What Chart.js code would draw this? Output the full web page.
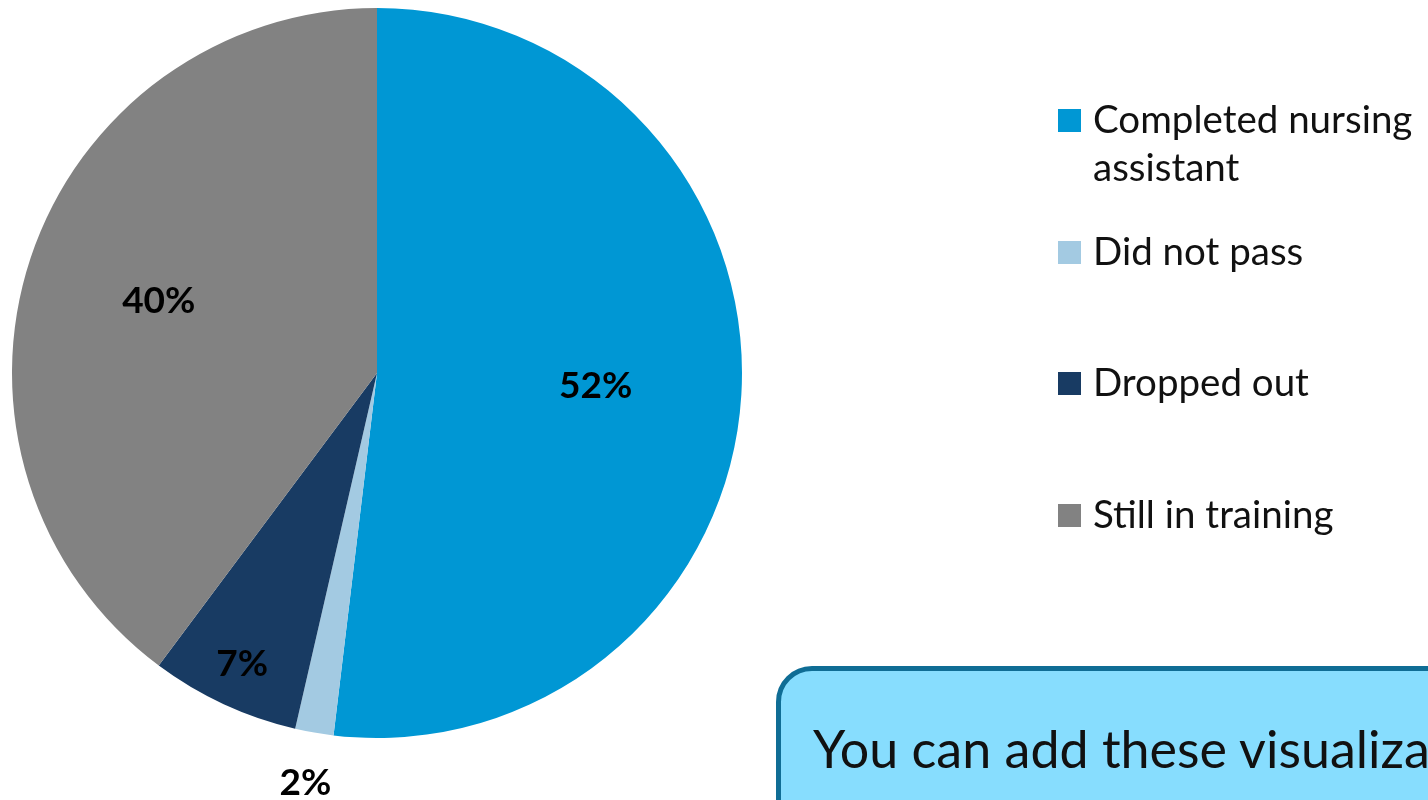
<!DOCTYPE html>
<html>
<head>
<meta charset="utf-8">
<script src="https://cdn.jsdelivr.net/npm/chart.js@4"></script>
<style>
  html, body { margin: 0; padding: 0; background: #fff; overflow: hidden; }
  #wrap { position: relative; width: 1428px; height: 800px; }
  #c { position: absolute; left: 0; top: 0; }
  .leg { position: absolute; left: 1058px; font-family: Lato, "Open Sans", sans-serif; font-size: 38.5px; color: #111; line-height: 48px; }
  .leg .sw { position: absolute; left: 0; top: 13px; width: 23px; height: 23px; }
  .leg .tx { position: absolute; left: 35px; top: -2px; width: 380px; white-space: normal; }
  #box { position: absolute; left: 776px; top: 666px; width: 720px; height: 220px; box-sizing: border-box;
         background: #87DDFE; border: 5px solid #0F6D95; border-radius: 36px;
         font-family: Lato, "Open Sans", sans-serif; font-size: 52px; color: #111; line-height: 76px; }
  #box .t { position: absolute; left: 32px; top: 39px; white-space: nowrap; }
</style>
</head>
<body>
<div id="wrap">
  <canvas id="c" width="1428" height="800"></canvas>
  <div id="box"><div class="t">You can add these visualizations<br>in a bulletin or report</div></div>
</div>
<script>
const categories = ["Completed nursing assistant", "Did not pass", "Dropped out", "Still in training"];
const values = [51.9, 1.7, 6.6, 39.8];
const percentLabels = ["52%", "2%", "7%", "40%"];
const colors = ["#0097D4", "#A3CAE2", "#183B63", "#828282"];
const labelRadii = [0.6, 1.14, 0.88, 0.63];
const legendTops = [96, 228, 359, 491];

const labelPlugin = {
  id: 'sliceLabels',
  afterDatasetsDraw(chart) {
    const ctx = chart.ctx;
    const meta = chart.getDatasetMeta(0);
    ctx.save();
    ctx.font = 'bold 37px Lato, "Open Sans", sans-serif';
    ctx.fillStyle = '#000';
    ctx.textAlign = 'center';
    ctx.textBaseline = 'middle';
    meta.data.forEach((arc, i) => {
      const p = arc.getProps(['x', 'y', 'startAngle', 'endAngle', 'outerRadius'], true);
      const mid = (p.startAngle + p.endAngle) / 2;
      const r = p.outerRadius * labelRadii[i];
      ctx.fillText(percentLabels[i], p.x + r * Math.cos(mid), p.y + r * Math.sin(mid));
    });
    ctx.restore();
  }
};

new Chart(document.getElementById('c'), {
  type: 'pie',
  data: {
    labels: categories,
    datasets: [{ data: values, backgroundColor: colors, borderWidth: 0 }]
  },
  options: {
    responsive: false,
    animation: false,
    layout: { padding: { left: 12, top: 8, right: 686, bottom: 62 } },
    plugins: { legend: { display: false }, tooltip: { enabled: false } }
  },
  plugins: [labelPlugin]
});

const wrap = document.getElementById('wrap');
categories.forEach((name, i) => {
  const d = document.createElement('div');
  d.className = 'leg';
  d.style.top = legendTops[i] + 'px';
  d.innerHTML = '<div class="sw" style="background:' + colors[i] + '"></div><div class="tx">' + name + '</div>';
  wrap.insertBefore(d, document.getElementById('box'));
});
</script>
</body>
</html>
